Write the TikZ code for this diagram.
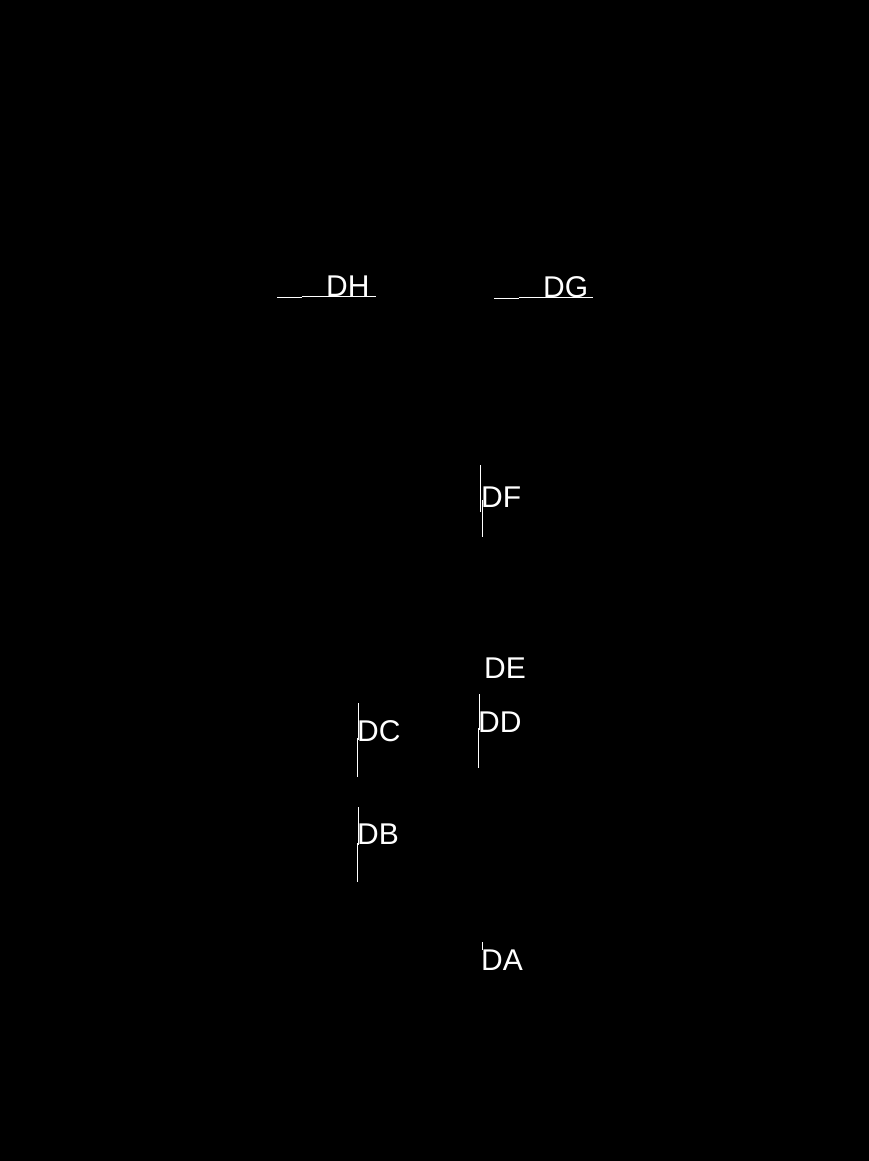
\documentclass[tikz,border=0pt]{standalone}
\usepackage{fontspec}
\setmainfont{Liberation Sans}
\begin{document}
\begin{tikzpicture}[x=1pt,y=-1pt,
  lbl/.style={anchor=base west,inner sep=0pt,text=white,font=\fontsize{30}{30}\selectfont},
  ln/.style={draw=white,line width=1pt}]
\useasboundingbox (0,0) rectangle (868,1161);
\fill[black] (-6,-6) rectangle (874,1167);
% labels
\node[lbl] (DH) at (326,296) {DH};
\node[lbl] (DG) at (543,297) {DG};
\node[lbl] (DF) at (481,507) {DF};
\node[lbl] (DE) at (484,678) {DE};
\node[lbl] (DD) at (478,732) {DD};
\node[lbl] (DC) at (357,741) {DC};
\node[lbl] (DB) at (357,844) {DB};
\node[lbl] (DA) at (481,970) {DA};
% lines
\draw[ln] (277,297) -- (302,297) (302,296) -- (376,296);
\draw[ln] (494,298) -- (519,298) (519,297) -- (593,297);
\draw[ln] (480,465) -- (480,512) (482,500) -- (482,537);
\draw[ln] (479,694) -- (479,730) (478,728) -- (478,768);
\draw[ln] (358,703) -- (358,740) (357,738) -- (357,777);
\draw[ln] (358,807) -- (358,845) (357,843) -- (357,882);
\draw[ln] (482,942) -- (482,950);
\end{tikzpicture}
\end{document}
